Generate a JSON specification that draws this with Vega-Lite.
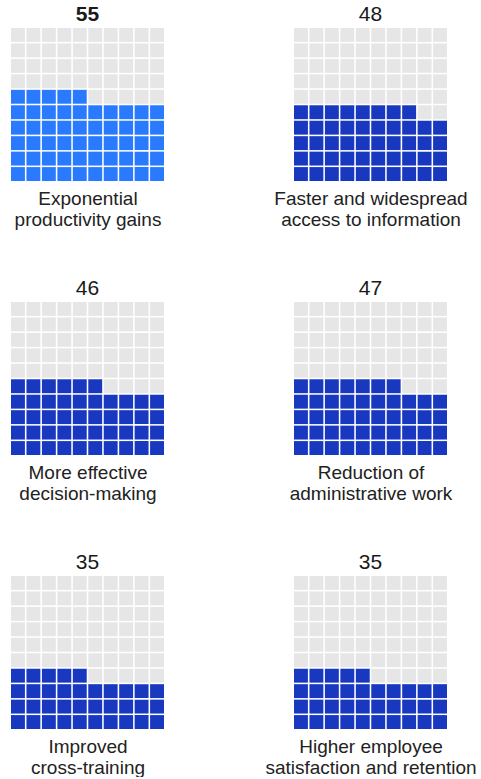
{
"$schema": "https://vega.github.io/schema/vega-lite/v6.json",
"background": "white",
"padding": {"left": 11, "top": 4, "right": 0, "bottom": 0},
"config": {
  "view": {"stroke": null},
  "font": "Liberation Sans",
  "title": {"fontSize": 21, "fontWeight": "normal", "color": "#1a1a1a", "offset": 3},
  "axisX": {"labels": false, "ticks": false, "domain": false, "grid": false, "titleFontSize": 19, "titleFontWeight": "normal", "titleColor": "#222222", "titlePadding": 8, "titleLineHeight": 21},
  "scale": {"bandPaddingInner": 0.1, "bandPaddingOuter": 0}
},
"datasets": {"cells": [
{"p":1,"x":0,"y":0,"f":1},{"p":1,"x":1,"y":0,"f":1},{"p":1,"x":2,"y":0,"f":1},{"p":1,"x":3,"y":0,"f":1},{"p":1,"x":4,"y":0,"f":1},{"p":1,"x":5,"y":0,"f":1},{"p":1,"x":6,"y":0,"f":1},{"p":1,"x":7,"y":0,"f":1},{"p":1,"x":8,"y":0,"f":1},{"p":1,"x":9,"y":0,"f":1},
{"p":1,"x":0,"y":1,"f":1},{"p":1,"x":1,"y":1,"f":1},{"p":1,"x":2,"y":1,"f":1},{"p":1,"x":3,"y":1,"f":1},{"p":1,"x":4,"y":1,"f":1},{"p":1,"x":5,"y":1,"f":1},{"p":1,"x":6,"y":1,"f":1},{"p":1,"x":7,"y":1,"f":1},{"p":1,"x":8,"y":1,"f":1},{"p":1,"x":9,"y":1,"f":1},
{"p":1,"x":0,"y":2,"f":1},{"p":1,"x":1,"y":2,"f":1},{"p":1,"x":2,"y":2,"f":1},{"p":1,"x":3,"y":2,"f":1},{"p":1,"x":4,"y":2,"f":1},{"p":1,"x":5,"y":2,"f":1},{"p":1,"x":6,"y":2,"f":1},{"p":1,"x":7,"y":2,"f":1},{"p":1,"x":8,"y":2,"f":1},{"p":1,"x":9,"y":2,"f":1},
{"p":1,"x":0,"y":3,"f":1},{"p":1,"x":1,"y":3,"f":1},{"p":1,"x":2,"y":3,"f":1},{"p":1,"x":3,"y":3,"f":1},{"p":1,"x":4,"y":3,"f":1},{"p":1,"x":5,"y":3,"f":1},{"p":1,"x":6,"y":3,"f":1},{"p":1,"x":7,"y":3,"f":1},{"p":1,"x":8,"y":3,"f":1},{"p":1,"x":9,"y":3,"f":1},
{"p":1,"x":0,"y":4,"f":1},{"p":1,"x":1,"y":4,"f":1},{"p":1,"x":2,"y":4,"f":1},{"p":1,"x":3,"y":4,"f":1},{"p":1,"x":4,"y":4,"f":1},{"p":1,"x":5,"y":4,"f":1},{"p":1,"x":6,"y":4,"f":1},{"p":1,"x":7,"y":4,"f":1},{"p":1,"x":8,"y":4,"f":1},{"p":1,"x":9,"y":4,"f":1},
{"p":1,"x":0,"y":5,"f":1},{"p":1,"x":1,"y":5,"f":1},{"p":1,"x":2,"y":5,"f":1},{"p":1,"x":3,"y":5,"f":1},{"p":1,"x":4,"y":5,"f":1},{"p":1,"x":5,"y":5,"f":0},{"p":1,"x":6,"y":5,"f":0},{"p":1,"x":7,"y":5,"f":0},{"p":1,"x":8,"y":5,"f":0},{"p":1,"x":9,"y":5,"f":0},
{"p":1,"x":0,"y":6,"f":0},{"p":1,"x":1,"y":6,"f":0},{"p":1,"x":2,"y":6,"f":0},{"p":1,"x":3,"y":6,"f":0},{"p":1,"x":4,"y":6,"f":0},{"p":1,"x":5,"y":6,"f":0},{"p":1,"x":6,"y":6,"f":0},{"p":1,"x":7,"y":6,"f":0},{"p":1,"x":8,"y":6,"f":0},{"p":1,"x":9,"y":6,"f":0},
{"p":1,"x":0,"y":7,"f":0},{"p":1,"x":1,"y":7,"f":0},{"p":1,"x":2,"y":7,"f":0},{"p":1,"x":3,"y":7,"f":0},{"p":1,"x":4,"y":7,"f":0},{"p":1,"x":5,"y":7,"f":0},{"p":1,"x":6,"y":7,"f":0},{"p":1,"x":7,"y":7,"f":0},{"p":1,"x":8,"y":7,"f":0},{"p":1,"x":9,"y":7,"f":0},
{"p":1,"x":0,"y":8,"f":0},{"p":1,"x":1,"y":8,"f":0},{"p":1,"x":2,"y":8,"f":0},{"p":1,"x":3,"y":8,"f":0},{"p":1,"x":4,"y":8,"f":0},{"p":1,"x":5,"y":8,"f":0},{"p":1,"x":6,"y":8,"f":0},{"p":1,"x":7,"y":8,"f":0},{"p":1,"x":8,"y":8,"f":0},{"p":1,"x":9,"y":8,"f":0},
{"p":1,"x":0,"y":9,"f":0},{"p":1,"x":1,"y":9,"f":0},{"p":1,"x":2,"y":9,"f":0},{"p":1,"x":3,"y":9,"f":0},{"p":1,"x":4,"y":9,"f":0},{"p":1,"x":5,"y":9,"f":0},{"p":1,"x":6,"y":9,"f":0},{"p":1,"x":7,"y":9,"f":0},{"p":1,"x":8,"y":9,"f":0},{"p":1,"x":9,"y":9,"f":0},
{"p":2,"x":0,"y":0,"f":1},{"p":2,"x":1,"y":0,"f":1},{"p":2,"x":2,"y":0,"f":1},{"p":2,"x":3,"y":0,"f":1},{"p":2,"x":4,"y":0,"f":1},{"p":2,"x":5,"y":0,"f":1},{"p":2,"x":6,"y":0,"f":1},{"p":2,"x":7,"y":0,"f":1},{"p":2,"x":8,"y":0,"f":1},{"p":2,"x":9,"y":0,"f":1},
{"p":2,"x":0,"y":1,"f":1},{"p":2,"x":1,"y":1,"f":1},{"p":2,"x":2,"y":1,"f":1},{"p":2,"x":3,"y":1,"f":1},{"p":2,"x":4,"y":1,"f":1},{"p":2,"x":5,"y":1,"f":1},{"p":2,"x":6,"y":1,"f":1},{"p":2,"x":7,"y":1,"f":1},{"p":2,"x":8,"y":1,"f":1},{"p":2,"x":9,"y":1,"f":1},
{"p":2,"x":0,"y":2,"f":1},{"p":2,"x":1,"y":2,"f":1},{"p":2,"x":2,"y":2,"f":1},{"p":2,"x":3,"y":2,"f":1},{"p":2,"x":4,"y":2,"f":1},{"p":2,"x":5,"y":2,"f":1},{"p":2,"x":6,"y":2,"f":1},{"p":2,"x":7,"y":2,"f":1},{"p":2,"x":8,"y":2,"f":1},{"p":2,"x":9,"y":2,"f":1},
{"p":2,"x":0,"y":3,"f":1},{"p":2,"x":1,"y":3,"f":1},{"p":2,"x":2,"y":3,"f":1},{"p":2,"x":3,"y":3,"f":1},{"p":2,"x":4,"y":3,"f":1},{"p":2,"x":5,"y":3,"f":1},{"p":2,"x":6,"y":3,"f":1},{"p":2,"x":7,"y":3,"f":1},{"p":2,"x":8,"y":3,"f":1},{"p":2,"x":9,"y":3,"f":1},
{"p":2,"x":0,"y":4,"f":1},{"p":2,"x":1,"y":4,"f":1},{"p":2,"x":2,"y":4,"f":1},{"p":2,"x":3,"y":4,"f":1},{"p":2,"x":4,"y":4,"f":1},{"p":2,"x":5,"y":4,"f":1},{"p":2,"x":6,"y":4,"f":1},{"p":2,"x":7,"y":4,"f":1},{"p":2,"x":8,"y":4,"f":0},{"p":2,"x":9,"y":4,"f":0},
{"p":2,"x":0,"y":5,"f":0},{"p":2,"x":1,"y":5,"f":0},{"p":2,"x":2,"y":5,"f":0},{"p":2,"x":3,"y":5,"f":0},{"p":2,"x":4,"y":5,"f":0},{"p":2,"x":5,"y":5,"f":0},{"p":2,"x":6,"y":5,"f":0},{"p":2,"x":7,"y":5,"f":0},{"p":2,"x":8,"y":5,"f":0},{"p":2,"x":9,"y":5,"f":0},
{"p":2,"x":0,"y":6,"f":0},{"p":2,"x":1,"y":6,"f":0},{"p":2,"x":2,"y":6,"f":0},{"p":2,"x":3,"y":6,"f":0},{"p":2,"x":4,"y":6,"f":0},{"p":2,"x":5,"y":6,"f":0},{"p":2,"x":6,"y":6,"f":0},{"p":2,"x":7,"y":6,"f":0},{"p":2,"x":8,"y":6,"f":0},{"p":2,"x":9,"y":6,"f":0},
{"p":2,"x":0,"y":7,"f":0},{"p":2,"x":1,"y":7,"f":0},{"p":2,"x":2,"y":7,"f":0},{"p":2,"x":3,"y":7,"f":0},{"p":2,"x":4,"y":7,"f":0},{"p":2,"x":5,"y":7,"f":0},{"p":2,"x":6,"y":7,"f":0},{"p":2,"x":7,"y":7,"f":0},{"p":2,"x":8,"y":7,"f":0},{"p":2,"x":9,"y":7,"f":0},
{"p":2,"x":0,"y":8,"f":0},{"p":2,"x":1,"y":8,"f":0},{"p":2,"x":2,"y":8,"f":0},{"p":2,"x":3,"y":8,"f":0},{"p":2,"x":4,"y":8,"f":0},{"p":2,"x":5,"y":8,"f":0},{"p":2,"x":6,"y":8,"f":0},{"p":2,"x":7,"y":8,"f":0},{"p":2,"x":8,"y":8,"f":0},{"p":2,"x":9,"y":8,"f":0},
{"p":2,"x":0,"y":9,"f":0},{"p":2,"x":1,"y":9,"f":0},{"p":2,"x":2,"y":9,"f":0},{"p":2,"x":3,"y":9,"f":0},{"p":2,"x":4,"y":9,"f":0},{"p":2,"x":5,"y":9,"f":0},{"p":2,"x":6,"y":9,"f":0},{"p":2,"x":7,"y":9,"f":0},{"p":2,"x":8,"y":9,"f":0},{"p":2,"x":9,"y":9,"f":0},
{"p":3,"x":0,"y":0,"f":1},{"p":3,"x":1,"y":0,"f":1},{"p":3,"x":2,"y":0,"f":1},{"p":3,"x":3,"y":0,"f":1},{"p":3,"x":4,"y":0,"f":1},{"p":3,"x":5,"y":0,"f":1},{"p":3,"x":6,"y":0,"f":1},{"p":3,"x":7,"y":0,"f":1},{"p":3,"x":8,"y":0,"f":1},{"p":3,"x":9,"y":0,"f":1},
{"p":3,"x":0,"y":1,"f":1},{"p":3,"x":1,"y":1,"f":1},{"p":3,"x":2,"y":1,"f":1},{"p":3,"x":3,"y":1,"f":1},{"p":3,"x":4,"y":1,"f":1},{"p":3,"x":5,"y":1,"f":1},{"p":3,"x":6,"y":1,"f":1},{"p":3,"x":7,"y":1,"f":1},{"p":3,"x":8,"y":1,"f":1},{"p":3,"x":9,"y":1,"f":1},
{"p":3,"x":0,"y":2,"f":1},{"p":3,"x":1,"y":2,"f":1},{"p":3,"x":2,"y":2,"f":1},{"p":3,"x":3,"y":2,"f":1},{"p":3,"x":4,"y":2,"f":1},{"p":3,"x":5,"y":2,"f":1},{"p":3,"x":6,"y":2,"f":1},{"p":3,"x":7,"y":2,"f":1},{"p":3,"x":8,"y":2,"f":1},{"p":3,"x":9,"y":2,"f":1},
{"p":3,"x":0,"y":3,"f":1},{"p":3,"x":1,"y":3,"f":1},{"p":3,"x":2,"y":3,"f":1},{"p":3,"x":3,"y":3,"f":1},{"p":3,"x":4,"y":3,"f":1},{"p":3,"x":5,"y":3,"f":1},{"p":3,"x":6,"y":3,"f":1},{"p":3,"x":7,"y":3,"f":1},{"p":3,"x":8,"y":3,"f":1},{"p":3,"x":9,"y":3,"f":1},
{"p":3,"x":0,"y":4,"f":1},{"p":3,"x":1,"y":4,"f":1},{"p":3,"x":2,"y":4,"f":1},{"p":3,"x":3,"y":4,"f":1},{"p":3,"x":4,"y":4,"f":1},{"p":3,"x":5,"y":4,"f":1},{"p":3,"x":6,"y":4,"f":0},{"p":3,"x":7,"y":4,"f":0},{"p":3,"x":8,"y":4,"f":0},{"p":3,"x":9,"y":4,"f":0},
{"p":3,"x":0,"y":5,"f":0},{"p":3,"x":1,"y":5,"f":0},{"p":3,"x":2,"y":5,"f":0},{"p":3,"x":3,"y":5,"f":0},{"p":3,"x":4,"y":5,"f":0},{"p":3,"x":5,"y":5,"f":0},{"p":3,"x":6,"y":5,"f":0},{"p":3,"x":7,"y":5,"f":0},{"p":3,"x":8,"y":5,"f":0},{"p":3,"x":9,"y":5,"f":0},
{"p":3,"x":0,"y":6,"f":0},{"p":3,"x":1,"y":6,"f":0},{"p":3,"x":2,"y":6,"f":0},{"p":3,"x":3,"y":6,"f":0},{"p":3,"x":4,"y":6,"f":0},{"p":3,"x":5,"y":6,"f":0},{"p":3,"x":6,"y":6,"f":0},{"p":3,"x":7,"y":6,"f":0},{"p":3,"x":8,"y":6,"f":0},{"p":3,"x":9,"y":6,"f":0},
{"p":3,"x":0,"y":7,"f":0},{"p":3,"x":1,"y":7,"f":0},{"p":3,"x":2,"y":7,"f":0},{"p":3,"x":3,"y":7,"f":0},{"p":3,"x":4,"y":7,"f":0},{"p":3,"x":5,"y":7,"f":0},{"p":3,"x":6,"y":7,"f":0},{"p":3,"x":7,"y":7,"f":0},{"p":3,"x":8,"y":7,"f":0},{"p":3,"x":9,"y":7,"f":0},
{"p":3,"x":0,"y":8,"f":0},{"p":3,"x":1,"y":8,"f":0},{"p":3,"x":2,"y":8,"f":0},{"p":3,"x":3,"y":8,"f":0},{"p":3,"x":4,"y":8,"f":0},{"p":3,"x":5,"y":8,"f":0},{"p":3,"x":6,"y":8,"f":0},{"p":3,"x":7,"y":8,"f":0},{"p":3,"x":8,"y":8,"f":0},{"p":3,"x":9,"y":8,"f":0},
{"p":3,"x":0,"y":9,"f":0},{"p":3,"x":1,"y":9,"f":0},{"p":3,"x":2,"y":9,"f":0},{"p":3,"x":3,"y":9,"f":0},{"p":3,"x":4,"y":9,"f":0},{"p":3,"x":5,"y":9,"f":0},{"p":3,"x":6,"y":9,"f":0},{"p":3,"x":7,"y":9,"f":0},{"p":3,"x":8,"y":9,"f":0},{"p":3,"x":9,"y":9,"f":0},
{"p":4,"x":0,"y":0,"f":1},{"p":4,"x":1,"y":0,"f":1},{"p":4,"x":2,"y":0,"f":1},{"p":4,"x":3,"y":0,"f":1},{"p":4,"x":4,"y":0,"f":1},{"p":4,"x":5,"y":0,"f":1},{"p":4,"x":6,"y":0,"f":1},{"p":4,"x":7,"y":0,"f":1},{"p":4,"x":8,"y":0,"f":1},{"p":4,"x":9,"y":0,"f":1},
{"p":4,"x":0,"y":1,"f":1},{"p":4,"x":1,"y":1,"f":1},{"p":4,"x":2,"y":1,"f":1},{"p":4,"x":3,"y":1,"f":1},{"p":4,"x":4,"y":1,"f":1},{"p":4,"x":5,"y":1,"f":1},{"p":4,"x":6,"y":1,"f":1},{"p":4,"x":7,"y":1,"f":1},{"p":4,"x":8,"y":1,"f":1},{"p":4,"x":9,"y":1,"f":1},
{"p":4,"x":0,"y":2,"f":1},{"p":4,"x":1,"y":2,"f":1},{"p":4,"x":2,"y":2,"f":1},{"p":4,"x":3,"y":2,"f":1},{"p":4,"x":4,"y":2,"f":1},{"p":4,"x":5,"y":2,"f":1},{"p":4,"x":6,"y":2,"f":1},{"p":4,"x":7,"y":2,"f":1},{"p":4,"x":8,"y":2,"f":1},{"p":4,"x":9,"y":2,"f":1},
{"p":4,"x":0,"y":3,"f":1},{"p":4,"x":1,"y":3,"f":1},{"p":4,"x":2,"y":3,"f":1},{"p":4,"x":3,"y":3,"f":1},{"p":4,"x":4,"y":3,"f":1},{"p":4,"x":5,"y":3,"f":1},{"p":4,"x":6,"y":3,"f":1},{"p":4,"x":7,"y":3,"f":1},{"p":4,"x":8,"y":3,"f":1},{"p":4,"x":9,"y":3,"f":1},
{"p":4,"x":0,"y":4,"f":1},{"p":4,"x":1,"y":4,"f":1},{"p":4,"x":2,"y":4,"f":1},{"p":4,"x":3,"y":4,"f":1},{"p":4,"x":4,"y":4,"f":1},{"p":4,"x":5,"y":4,"f":1},{"p":4,"x":6,"y":4,"f":1},{"p":4,"x":7,"y":4,"f":0},{"p":4,"x":8,"y":4,"f":0},{"p":4,"x":9,"y":4,"f":0},
{"p":4,"x":0,"y":5,"f":0},{"p":4,"x":1,"y":5,"f":0},{"p":4,"x":2,"y":5,"f":0},{"p":4,"x":3,"y":5,"f":0},{"p":4,"x":4,"y":5,"f":0},{"p":4,"x":5,"y":5,"f":0},{"p":4,"x":6,"y":5,"f":0},{"p":4,"x":7,"y":5,"f":0},{"p":4,"x":8,"y":5,"f":0},{"p":4,"x":9,"y":5,"f":0},
{"p":4,"x":0,"y":6,"f":0},{"p":4,"x":1,"y":6,"f":0},{"p":4,"x":2,"y":6,"f":0},{"p":4,"x":3,"y":6,"f":0},{"p":4,"x":4,"y":6,"f":0},{"p":4,"x":5,"y":6,"f":0},{"p":4,"x":6,"y":6,"f":0},{"p":4,"x":7,"y":6,"f":0},{"p":4,"x":8,"y":6,"f":0},{"p":4,"x":9,"y":6,"f":0},
{"p":4,"x":0,"y":7,"f":0},{"p":4,"x":1,"y":7,"f":0},{"p":4,"x":2,"y":7,"f":0},{"p":4,"x":3,"y":7,"f":0},{"p":4,"x":4,"y":7,"f":0},{"p":4,"x":5,"y":7,"f":0},{"p":4,"x":6,"y":7,"f":0},{"p":4,"x":7,"y":7,"f":0},{"p":4,"x":8,"y":7,"f":0},{"p":4,"x":9,"y":7,"f":0},
{"p":4,"x":0,"y":8,"f":0},{"p":4,"x":1,"y":8,"f":0},{"p":4,"x":2,"y":8,"f":0},{"p":4,"x":3,"y":8,"f":0},{"p":4,"x":4,"y":8,"f":0},{"p":4,"x":5,"y":8,"f":0},{"p":4,"x":6,"y":8,"f":0},{"p":4,"x":7,"y":8,"f":0},{"p":4,"x":8,"y":8,"f":0},{"p":4,"x":9,"y":8,"f":0},
{"p":4,"x":0,"y":9,"f":0},{"p":4,"x":1,"y":9,"f":0},{"p":4,"x":2,"y":9,"f":0},{"p":4,"x":3,"y":9,"f":0},{"p":4,"x":4,"y":9,"f":0},{"p":4,"x":5,"y":9,"f":0},{"p":4,"x":6,"y":9,"f":0},{"p":4,"x":7,"y":9,"f":0},{"p":4,"x":8,"y":9,"f":0},{"p":4,"x":9,"y":9,"f":0},
{"p":5,"x":0,"y":0,"f":1},{"p":5,"x":1,"y":0,"f":1},{"p":5,"x":2,"y":0,"f":1},{"p":5,"x":3,"y":0,"f":1},{"p":5,"x":4,"y":0,"f":1},{"p":5,"x":5,"y":0,"f":1},{"p":5,"x":6,"y":0,"f":1},{"p":5,"x":7,"y":0,"f":1},{"p":5,"x":8,"y":0,"f":1},{"p":5,"x":9,"y":0,"f":1},
{"p":5,"x":0,"y":1,"f":1},{"p":5,"x":1,"y":1,"f":1},{"p":5,"x":2,"y":1,"f":1},{"p":5,"x":3,"y":1,"f":1},{"p":5,"x":4,"y":1,"f":1},{"p":5,"x":5,"y":1,"f":1},{"p":5,"x":6,"y":1,"f":1},{"p":5,"x":7,"y":1,"f":1},{"p":5,"x":8,"y":1,"f":1},{"p":5,"x":9,"y":1,"f":1},
{"p":5,"x":0,"y":2,"f":1},{"p":5,"x":1,"y":2,"f":1},{"p":5,"x":2,"y":2,"f":1},{"p":5,"x":3,"y":2,"f":1},{"p":5,"x":4,"y":2,"f":1},{"p":5,"x":5,"y":2,"f":1},{"p":5,"x":6,"y":2,"f":1},{"p":5,"x":7,"y":2,"f":1},{"p":5,"x":8,"y":2,"f":1},{"p":5,"x":9,"y":2,"f":1},
{"p":5,"x":0,"y":3,"f":1},{"p":5,"x":1,"y":3,"f":1},{"p":5,"x":2,"y":3,"f":1},{"p":5,"x":3,"y":3,"f":1},{"p":5,"x":4,"y":3,"f":1},{"p":5,"x":5,"y":3,"f":0},{"p":5,"x":6,"y":3,"f":0},{"p":5,"x":7,"y":3,"f":0},{"p":5,"x":8,"y":3,"f":0},{"p":5,"x":9,"y":3,"f":0},
{"p":5,"x":0,"y":4,"f":0},{"p":5,"x":1,"y":4,"f":0},{"p":5,"x":2,"y":4,"f":0},{"p":5,"x":3,"y":4,"f":0},{"p":5,"x":4,"y":4,"f":0},{"p":5,"x":5,"y":4,"f":0},{"p":5,"x":6,"y":4,"f":0},{"p":5,"x":7,"y":4,"f":0},{"p":5,"x":8,"y":4,"f":0},{"p":5,"x":9,"y":4,"f":0},
{"p":5,"x":0,"y":5,"f":0},{"p":5,"x":1,"y":5,"f":0},{"p":5,"x":2,"y":5,"f":0},{"p":5,"x":3,"y":5,"f":0},{"p":5,"x":4,"y":5,"f":0},{"p":5,"x":5,"y":5,"f":0},{"p":5,"x":6,"y":5,"f":0},{"p":5,"x":7,"y":5,"f":0},{"p":5,"x":8,"y":5,"f":0},{"p":5,"x":9,"y":5,"f":0},
{"p":5,"x":0,"y":6,"f":0},{"p":5,"x":1,"y":6,"f":0},{"p":5,"x":2,"y":6,"f":0},{"p":5,"x":3,"y":6,"f":0},{"p":5,"x":4,"y":6,"f":0},{"p":5,"x":5,"y":6,"f":0},{"p":5,"x":6,"y":6,"f":0},{"p":5,"x":7,"y":6,"f":0},{"p":5,"x":8,"y":6,"f":0},{"p":5,"x":9,"y":6,"f":0},
{"p":5,"x":0,"y":7,"f":0},{"p":5,"x":1,"y":7,"f":0},{"p":5,"x":2,"y":7,"f":0},{"p":5,"x":3,"y":7,"f":0},{"p":5,"x":4,"y":7,"f":0},{"p":5,"x":5,"y":7,"f":0},{"p":5,"x":6,"y":7,"f":0},{"p":5,"x":7,"y":7,"f":0},{"p":5,"x":8,"y":7,"f":0},{"p":5,"x":9,"y":7,"f":0},
{"p":5,"x":0,"y":8,"f":0},{"p":5,"x":1,"y":8,"f":0},{"p":5,"x":2,"y":8,"f":0},{"p":5,"x":3,"y":8,"f":0},{"p":5,"x":4,"y":8,"f":0},{"p":5,"x":5,"y":8,"f":0},{"p":5,"x":6,"y":8,"f":0},{"p":5,"x":7,"y":8,"f":0},{"p":5,"x":8,"y":8,"f":0},{"p":5,"x":9,"y":8,"f":0},
{"p":5,"x":0,"y":9,"f":0},{"p":5,"x":1,"y":9,"f":0},{"p":5,"x":2,"y":9,"f":0},{"p":5,"x":3,"y":9,"f":0},{"p":5,"x":4,"y":9,"f":0},{"p":5,"x":5,"y":9,"f":0},{"p":5,"x":6,"y":9,"f":0},{"p":5,"x":7,"y":9,"f":0},{"p":5,"x":8,"y":9,"f":0},{"p":5,"x":9,"y":9,"f":0},
{"p":6,"x":0,"y":0,"f":1},{"p":6,"x":1,"y":0,"f":1},{"p":6,"x":2,"y":0,"f":1},{"p":6,"x":3,"y":0,"f":1},{"p":6,"x":4,"y":0,"f":1},{"p":6,"x":5,"y":0,"f":1},{"p":6,"x":6,"y":0,"f":1},{"p":6,"x":7,"y":0,"f":1},{"p":6,"x":8,"y":0,"f":1},{"p":6,"x":9,"y":0,"f":1},
{"p":6,"x":0,"y":1,"f":1},{"p":6,"x":1,"y":1,"f":1},{"p":6,"x":2,"y":1,"f":1},{"p":6,"x":3,"y":1,"f":1},{"p":6,"x":4,"y":1,"f":1},{"p":6,"x":5,"y":1,"f":1},{"p":6,"x":6,"y":1,"f":1},{"p":6,"x":7,"y":1,"f":1},{"p":6,"x":8,"y":1,"f":1},{"p":6,"x":9,"y":1,"f":1},
{"p":6,"x":0,"y":2,"f":1},{"p":6,"x":1,"y":2,"f":1},{"p":6,"x":2,"y":2,"f":1},{"p":6,"x":3,"y":2,"f":1},{"p":6,"x":4,"y":2,"f":1},{"p":6,"x":5,"y":2,"f":1},{"p":6,"x":6,"y":2,"f":1},{"p":6,"x":7,"y":2,"f":1},{"p":6,"x":8,"y":2,"f":1},{"p":6,"x":9,"y":2,"f":1},
{"p":6,"x":0,"y":3,"f":1},{"p":6,"x":1,"y":3,"f":1},{"p":6,"x":2,"y":3,"f":1},{"p":6,"x":3,"y":3,"f":1},{"p":6,"x":4,"y":3,"f":1},{"p":6,"x":5,"y":3,"f":0},{"p":6,"x":6,"y":3,"f":0},{"p":6,"x":7,"y":3,"f":0},{"p":6,"x":8,"y":3,"f":0},{"p":6,"x":9,"y":3,"f":0},
{"p":6,"x":0,"y":4,"f":0},{"p":6,"x":1,"y":4,"f":0},{"p":6,"x":2,"y":4,"f":0},{"p":6,"x":3,"y":4,"f":0},{"p":6,"x":4,"y":4,"f":0},{"p":6,"x":5,"y":4,"f":0},{"p":6,"x":6,"y":4,"f":0},{"p":6,"x":7,"y":4,"f":0},{"p":6,"x":8,"y":4,"f":0},{"p":6,"x":9,"y":4,"f":0},
{"p":6,"x":0,"y":5,"f":0},{"p":6,"x":1,"y":5,"f":0},{"p":6,"x":2,"y":5,"f":0},{"p":6,"x":3,"y":5,"f":0},{"p":6,"x":4,"y":5,"f":0},{"p":6,"x":5,"y":5,"f":0},{"p":6,"x":6,"y":5,"f":0},{"p":6,"x":7,"y":5,"f":0},{"p":6,"x":8,"y":5,"f":0},{"p":6,"x":9,"y":5,"f":0},
{"p":6,"x":0,"y":6,"f":0},{"p":6,"x":1,"y":6,"f":0},{"p":6,"x":2,"y":6,"f":0},{"p":6,"x":3,"y":6,"f":0},{"p":6,"x":4,"y":6,"f":0},{"p":6,"x":5,"y":6,"f":0},{"p":6,"x":6,"y":6,"f":0},{"p":6,"x":7,"y":6,"f":0},{"p":6,"x":8,"y":6,"f":0},{"p":6,"x":9,"y":6,"f":0},
{"p":6,"x":0,"y":7,"f":0},{"p":6,"x":1,"y":7,"f":0},{"p":6,"x":2,"y":7,"f":0},{"p":6,"x":3,"y":7,"f":0},{"p":6,"x":4,"y":7,"f":0},{"p":6,"x":5,"y":7,"f":0},{"p":6,"x":6,"y":7,"f":0},{"p":6,"x":7,"y":7,"f":0},{"p":6,"x":8,"y":7,"f":0},{"p":6,"x":9,"y":7,"f":0},
{"p":6,"x":0,"y":8,"f":0},{"p":6,"x":1,"y":8,"f":0},{"p":6,"x":2,"y":8,"f":0},{"p":6,"x":3,"y":8,"f":0},{"p":6,"x":4,"y":8,"f":0},{"p":6,"x":5,"y":8,"f":0},{"p":6,"x":6,"y":8,"f":0},{"p":6,"x":7,"y":8,"f":0},{"p":6,"x":8,"y":8,"f":0},{"p":6,"x":9,"y":8,"f":0},
{"p":6,"x":0,"y":9,"f":0},{"p":6,"x":1,"y":9,"f":0},{"p":6,"x":2,"y":9,"f":0},{"p":6,"x":3,"y":9,"f":0},{"p":6,"x":4,"y":9,"f":0},{"p":6,"x":5,"y":9,"f":0},{"p":6,"x":6,"y":9,"f":0},{"p":6,"x":7,"y":9,"f":0},{"p":6,"x":8,"y":9,"f":0},{"p":6,"x":9,"y":9,"f":0}
]},
"bounds": "flush",
"columns": 2,
"spacing": {"row": 121, "column": 130},
"resolve": {"scale": {"color": "independent"}},
"concat": [
  {"data": {"name": "cells"}, "transform": [{"filter": "datum.p == 1"}], "width": 153, "height": 153,
   "title": {"text": "55", "fontWeight": "bold"},
   "mark": "rect",
   "encoding": {
    "x": {"field": "x", "type": "ordinal", "axis": {"title": ["Exponential", "productivity gains"]}},
    "y": {"field": "y", "type": "ordinal", "sort": "descending", "axis": null},
    "color": {"field": "f", "type": "nominal", "scale": {"domain": [0, 1], "range": ["#e6e6e6", "#2a7aff"]}, "legend": null}}},
  {"data": {"name": "cells"}, "transform": [{"filter": "datum.p == 2"}], "width": 153, "height": 153,
   "title": {"text": "48"},
   "mark": "rect",
   "encoding": {
    "x": {"field": "x", "type": "ordinal", "axis": {"title": ["Faster and widespread", "access to information"]}},
    "y": {"field": "y", "type": "ordinal", "sort": "descending", "axis": null},
    "color": {"field": "f", "type": "nominal", "scale": {"domain": [0, 1], "range": ["#e6e6e6", "#1738bf"]}, "legend": null}}},
  {"data": {"name": "cells"}, "transform": [{"filter": "datum.p == 3"}], "width": 153, "height": 153,
   "title": {"text": "46"},
   "mark": "rect",
   "encoding": {
    "x": {"field": "x", "type": "ordinal", "axis": {"title": ["More effective", "decision-making"]}},
    "y": {"field": "y", "type": "ordinal", "sort": "descending", "axis": null},
    "color": {"field": "f", "type": "nominal", "scale": {"domain": [0, 1], "range": ["#e6e6e6", "#1738bf"]}, "legend": null}}},
  {"data": {"name": "cells"}, "transform": [{"filter": "datum.p == 4"}], "width": 153, "height": 153,
   "title": {"text": "47"},
   "mark": "rect",
   "encoding": {
    "x": {"field": "x", "type": "ordinal", "axis": {"title": ["Reduction of", "administrative work"]}},
    "y": {"field": "y", "type": "ordinal", "sort": "descending", "axis": null},
    "color": {"field": "f", "type": "nominal", "scale": {"domain": [0, 1], "range": ["#e6e6e6", "#1738bf"]}, "legend": null}}},
  {"data": {"name": "cells"}, "transform": [{"filter": "datum.p == 5"}], "width": 153, "height": 153,
   "title": {"text": "35"},
   "mark": "rect",
   "encoding": {
    "x": {"field": "x", "type": "ordinal", "axis": {"title": ["Improved", "cross-training"]}},
    "y": {"field": "y", "type": "ordinal", "sort": "descending", "axis": null},
    "color": {"field": "f", "type": "nominal", "scale": {"domain": [0, 1], "range": ["#e6e6e6", "#1738bf"]}, "legend": null}}},
  {"data": {"name": "cells"}, "transform": [{"filter": "datum.p == 6"}], "width": 153, "height": 153,
   "title": {"text": "35"},
   "mark": "rect",
   "encoding": {
    "x": {"field": "x", "type": "ordinal", "axis": {"title": ["Higher employee", "satisfaction and retention"]}},
    "y": {"field": "y", "type": "ordinal", "sort": "descending", "axis": null},
    "color": {"field": "f", "type": "nominal", "scale": {"domain": [0, 1], "range": ["#e6e6e6", "#1738bf"]}, "legend": null}}}
]
}
